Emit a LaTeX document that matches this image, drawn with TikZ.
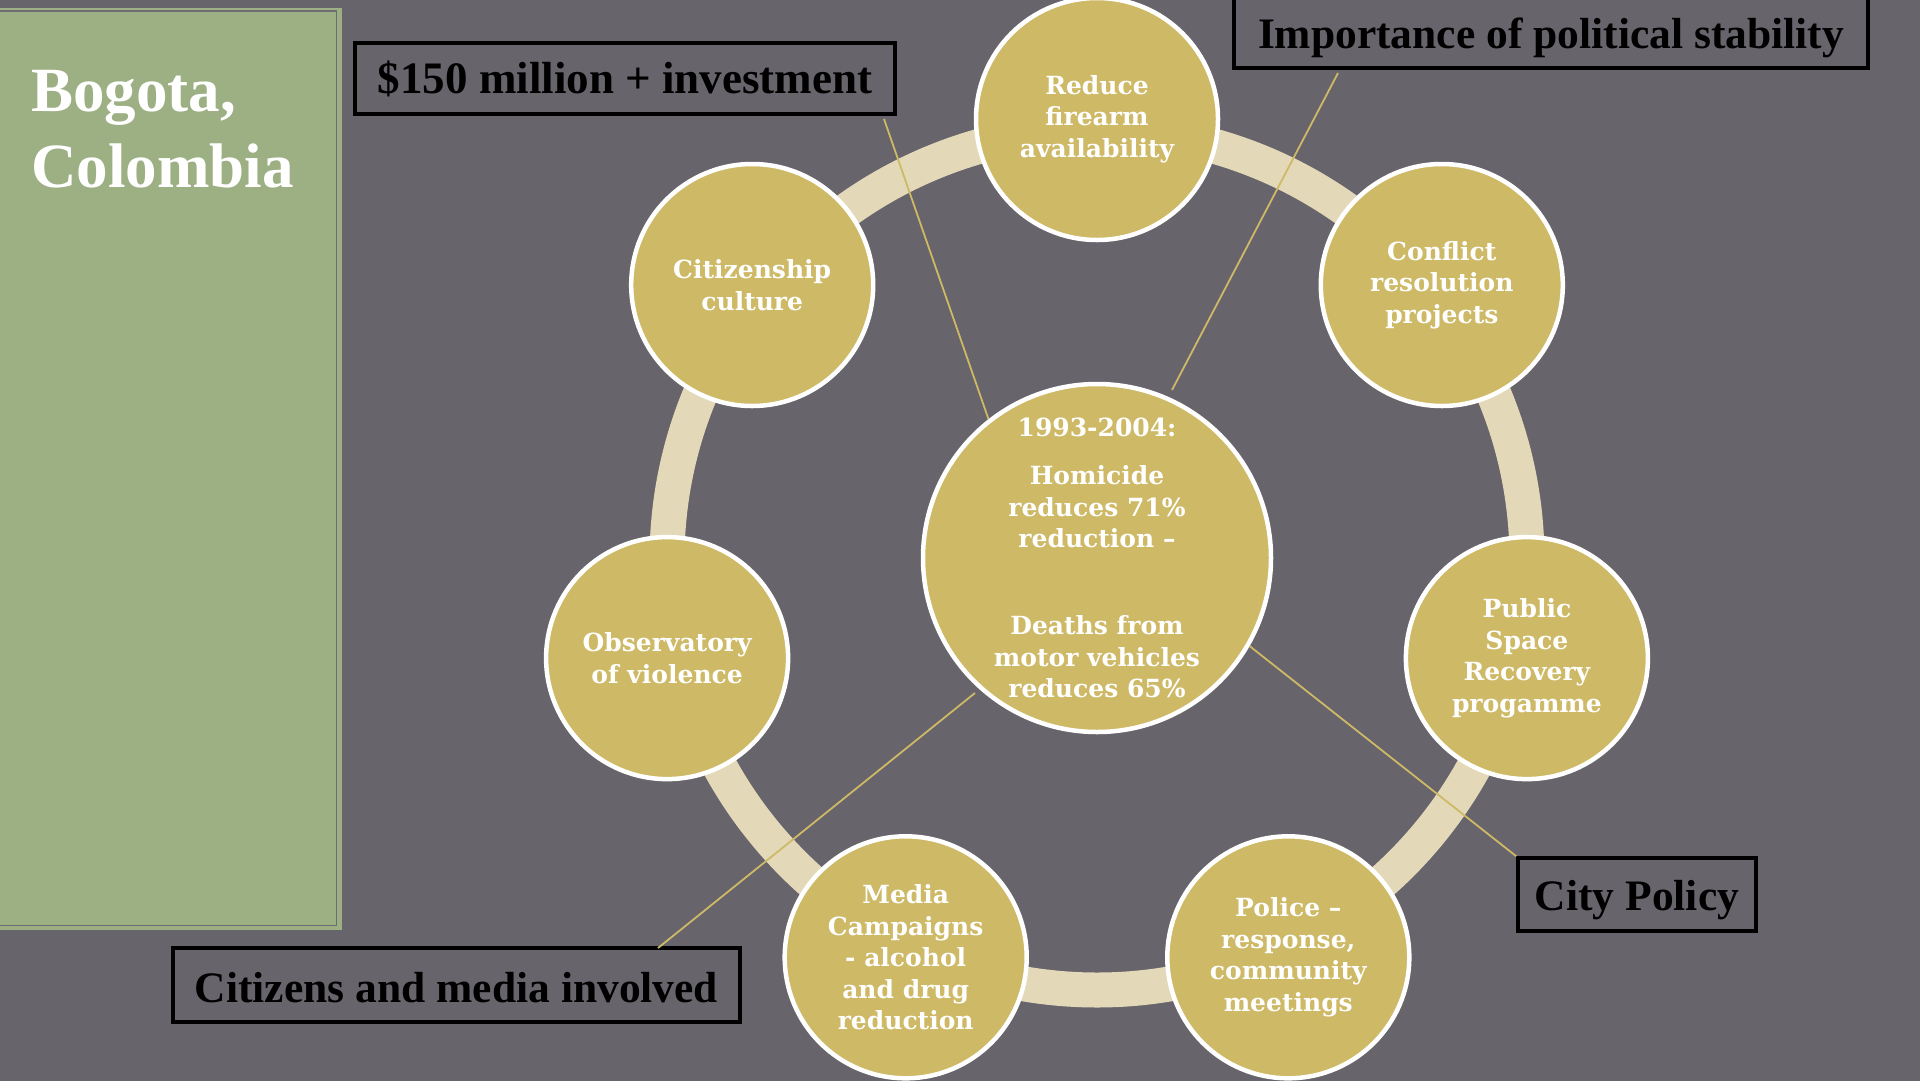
\documentclass[tikz,border=0pt]{standalone}
\usepackage{fontspec}
\setmainfont{Liberation Serif}
\newfontfamily\circfont{DejaVu Serif}
\definecolor{bgc}{HTML}{67646C}
\definecolor{greenc}{HTML}{9DB084}
\definecolor{goldc}{HTML}{CEB966}
\definecolor{ringc}{HTML}{E3D9B9}
\definecolor{panelline}{HTML}{6F6D73}
\begin{document}
\begin{tikzpicture}[x=1pt,y=-1pt,
  ring/.style={draw=ringc, line width=35pt},
  item/.style={circle, fill=goldc, draw=white, line width=4.5pt, minimum size=242pt,
    inner sep=0pt, align=center, text=white,
    font=\circfont\bfseries\fontsize{25}{31.5}\selectfont},
  hub/.style={item, minimum size=348pt},
  callout/.style={draw=black, line width=3.5pt, text=black, inner sep=0pt,
    font=\bfseries\fontsize{43.5}{50}\selectfont, text depth=6pt},
  leader/.style={draw=goldc, line width=1.8pt},
  titletext/.style={text=white, align=left, inner sep=0pt,
    font=\bfseries\fontsize{63}{76}\selectfont}]
\useasboundingbox (0,0) rectangle (1920,1080);
\fill[bgc] (-10,-10) rectangle (1930,1090);
% side panel
\fill[greenc] (-10,8) rectangle (342,930);
\draw[panelline, line width=1.2pt] (-10,11) rectangle (336.5,925.5);
\node[titletext, anchor=north west] (title) at (31,70.5) {Bogota,\\Colombia};
% ring
\draw[ring] (1097,560) circle[radius=430pt];
% cycle items
\node[item] (firearm) at (1097,119) {Reduce\\firearm\\availability};
\node[item] (conflict) at (1441.8,285) {Conflict\\resolution\\projects};
\node[item] (public) at (1526.9,658.1) {Public\\Space\\Recovery\\progamme};
\node[item] (police) at (1288.3,957.3) {Police –\\response,\\community\\meetings};
\node[item] (media) at (905.7,957.3) {Media\\Campaigns\\- alcohol\\and drug\\reduction};
\node[item] (observ) at (667.1,658.1) {Observatory\\of violence};
\node[item] (citizen) at (752.2,285) {Citizenship\\culture};
% hub
\node[hub] (hub) at (1097,558) {1993-2004:\\[16.5pt]Homicide\\reduces 71\%\\reduction –\\[55.5pt]Deaths from\\motor vehicles\\reduces 65\%};
% callouts
\node[callout, minimum width=540pt, minimum height=71pt, text height=35pt, font=\bfseries\fontsize{45}{50}\selectfont] (b150) at (625,78.5) {\$150 million + investment\hspace{14pt}};
\node[callout, minimum width=634pt, minimum height=74pt, text height=40pt] (bpol) at (1551,31) {Importance of political stability};
\node[callout, minimum width=238pt, minimum height=73pt, text height=37pt] (bcity) at (1637,894.5) {City Policy};
\node[callout, minimum width=567pt, minimum height=74pt, text height=40pt] (bcit) at (456.5,985) {Citizens and media involved};
% leader lines
\coordinate (p150) at (884,119);
\coordinate (ppol) at (1338,73);
\coordinate (qpol) at (1172,390);
\coordinate (pcit) at (658,948);
\coordinate (qcit) at (975,693);
\draw[leader] (p150) -- (hub.128);
\draw[leader] (ppol) -- (qpol);
\draw[leader] (bcity.north west) -- (hub.-30.5);
\draw[leader] (pcit) -- (qcit);
\end{tikzpicture}
\end{document}
